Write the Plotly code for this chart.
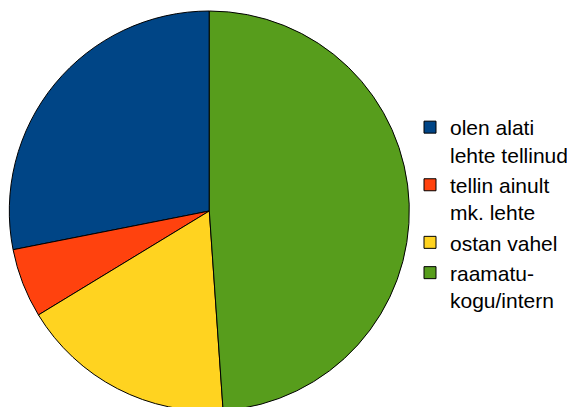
import plotly.graph_objects as go

labels = ["olen alati<br>lehte tellinud", "tellin ainult<br>mk. lehte", "ostan vahel", "raamatu-<br>kogu/intern"]
values = [28.1, 5.6, 17.4, 48.9]
colors = ["#004586", "#ff420e", "#ffd320", "#579d1c"]

W, H = 575, 407
OFF = 8  # page body margin

# first slice ends at 12 o'clock, rest continue counterclockwise
rot = -360.0 * values[0] / sum(values)

cx, cy, r = 209.3 - OFF, 211 - OFF, 200

fig = go.Figure(go.Pie(
    labels=labels,
    values=values,
    sort=False,
    direction="counterclockwise",
    rotation=rot,
    textinfo="none",
    hoverinfo="label+percent",
    marker=dict(colors=colors, line=dict(color="#000000", width=1)),
    domain=dict(x=[(cx - r) / W, (cx + r) / W], y=[(H - cy - r) / H, (H - cy + r) / H]),
))

fig.update_layout(
    width=W, height=H,
    margin=dict(l=0, r=0, t=0, b=0),
    paper_bgcolor="white", plot_bgcolor="white",
    font=dict(family="Liberation Sans, Arial, sans-serif", size=21, color="#000000"),
    legend=dict(x=402 / W, xanchor="left", y=1 - 99 / H, yanchor="top",
                valign="top", bgcolor="rgba(0,0,0,0)"),
    showlegend=True,
)

fig.write_html("out.html")
